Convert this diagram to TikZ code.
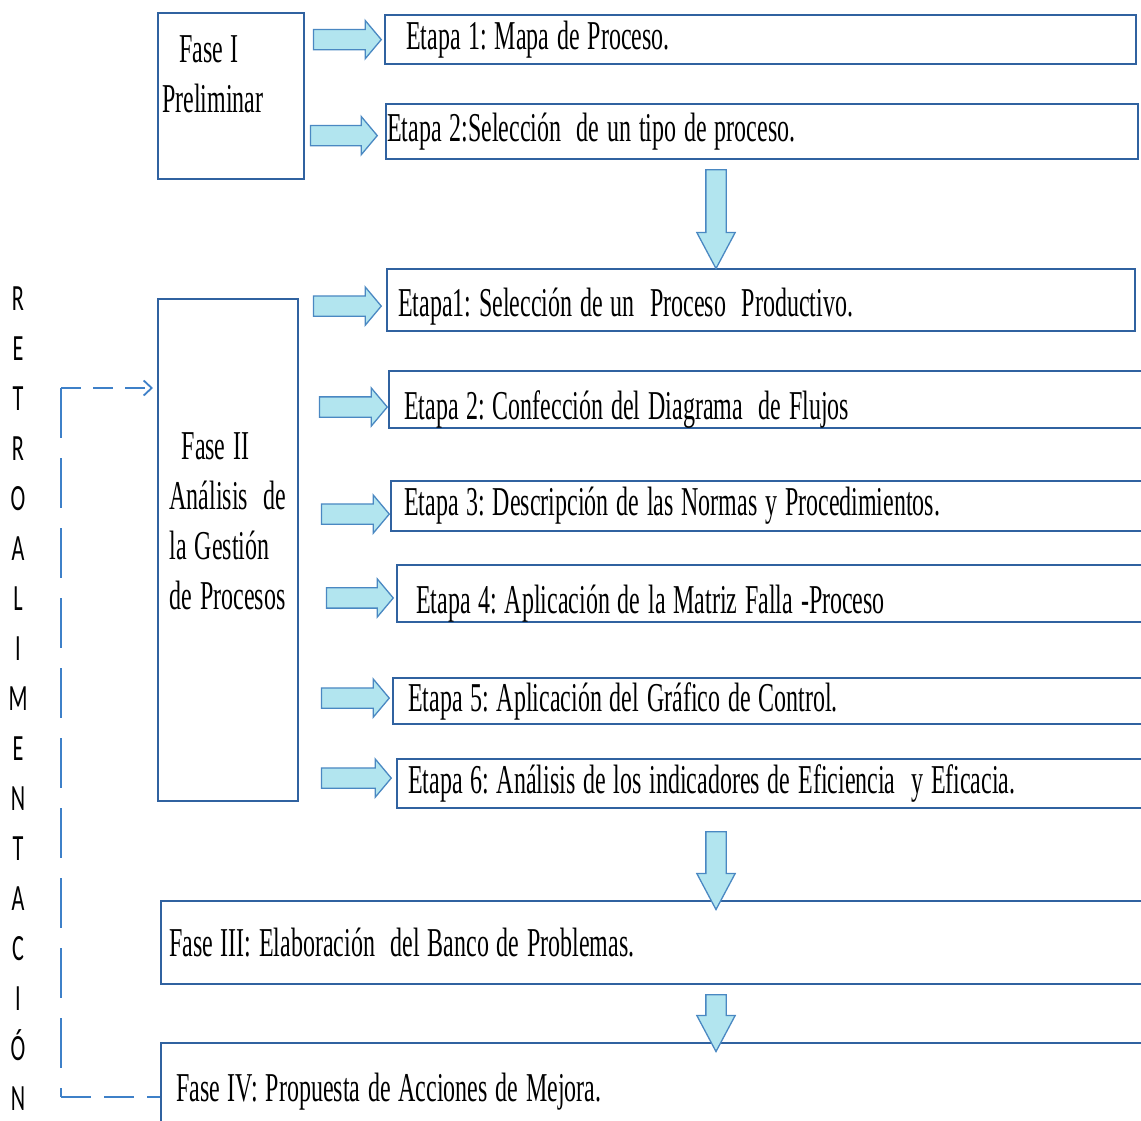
\documentclass[tikz,border=0pt]{standalone}
\usepackage{fontspec}
\newfontfamily\narrowserif{Liberation Serif}[FakeStretch=0.585, WordSpace=1.3]
\newfontfamily\narrowsans{Carlito}[FakeStretch=0.6]
\usetikzlibrary{arrows.meta,shapes.arrows,calc}
\definecolor{boxblue}{RGB}{48,98,160}
\definecolor{arrowfill}{RGB}{178,229,239}
\definecolor{arrowedge}{RGB}{74,136,194}
\definecolor{fbblue}{RGB}{62,128,200}
\frenchspacing

\begin{document}
\begin{tikzpicture}[x=1pt, y=-1pt,
    stagebox/.style={draw=boxblue, line width=2.2pt, anchor=north west, align=left, inner ysep=0pt, font=\narrowserif\fontsize{41}{50}\selectfont, execute at begin node={\spaceskip=0pt\xspaceskip=0pt}},
    barrow/.style={to path={let \p1=(\tikztostart), \p2=(\tikztotarget), \n1={veclen(\x2-\x1,\y2-\y1)} in (\tikztostart) -- (\tikztotarget) node[pos=.5, sloped, allow upside down, single arrow, draw=arrowedge, fill=arrowfill, line width=1.3pt, minimum height=\n1, minimum width=0pt, inner xsep=0pt, inner ysep=9.5pt, single arrow head extend=9pt, single arrow tip angle=#1] {}}},
    barrow/.default=100,
    fbline/.style={draw=fbblue, line width=1.8pt},
    letter/.style={anchor=base, inner sep=0pt, font=\narrowsans\fontsize{37}{37}\selectfont}
]
\useasboundingbox (0,0) rectangle (1141,1120);
\clip (0,0) rectangle (1141,1120);

% fase I
\node[stagebox, text width=138pt, inner xsep=4pt, minimum height=166pt, text depth=94pt] (faseI) at (157,12) {\hspace*{17pt}Fase I\\Preliminar};
\node[stagebox, text width=709pt, inner xsep=21pt, minimum height=49pt] (e1a) at (384,14) {Etapa 1: Mapa de Proceso.};
\node[stagebox, text width=750pt, inner xsep=1pt, minimum height=55pt] (e2a) at (385,103) {Etapa 2:Selección~ de un tipo de proceso.};

% fase II
\node[stagebox, minimum width=140pt, minimum height=502pt, text depth=58pt] (faseII) at (157,298) {\hspace*{12pt}Fase II\\Análisis~ de\\la Gestión\\de Procesos};
\node[stagebox, text width=726pt, inner xsep=11pt, minimum height=62pt, text height=41pt] (e1b) at (386,268) {Etapa1: Selección de un~ Proceso~ Productivo.};
\node[stagebox, text width=727pt, inner xsep=15pt, minimum height=51pt, text height=48pt] (e2b) at (388,370) {Etapa 2: Confección del Diagrama~ de Flujos};
\node[stagebox, text width=729pt, inner xsep=13pt, minimum height=50pt] (e3b) at (390,480) {Etapa 3: Descripción de las Normas y Procedimientos.};
\node[stagebox, text width=711pt, inner xsep=19pt, minimum height=53pt, text height=48pt] (e4b) at (396,564) {Etapa 4: Aplicación de la Matriz Falla -Proceso};
\node[stagebox, text width=723pt, inner xsep=15pt, minimum height=46pt] (e5b) at (392,677) {Etapa 5: Aplicación del Gráfico de Control.};
\node[stagebox, text width=727pt, inner xsep=11pt, minimum height=49pt] (e6b) at (396,758) {Etapa 6: Análisis de los indicadores de Eficiencia~ y Eficacia.};

% fases III y IV
\node[stagebox, text width=969pt, inner xsep=8pt, minimum height=83pt] (faseIII) at (160,900) {Fase III: Elaboración~ del Banco de Problemas.};
\node[stagebox, text width=955pt, inner xsep=15pt, minimum height=98pt] (faseIV) at (160,1042) {Fase IV: Propuesta de Acciones de Mejora.};

% flechas de bloque
\coordinate (col) at (716,0);
\path[barrow] ($(faseI.east |- e1a.west)+(4,0)$) to ($(e1a.west)+(-7,0)$);
\path[barrow] ($(faseI.east |- e2a.west)+(1,4)$) to ($(e2a.west)+(-12,4)$);
\path[barrow=56] (e2a.south -| col) to ($(e1b.north -| col)+(0,-9)$);
\path[barrow] ($(faseII.east |- e1b.west)+(10,6)$) to ($(e1b.west)+(-9,6)$);
\path[barrow] ($(faseII.east |- e2b.west)+(16,7.5)$) to ($(e2b.west)+(-5,7.5)$);
\path[barrow] ($(faseII.east |- e3b.west)+(18,8)$) to ($(e3b.west)+(-5,8)$);
\path[barrow] ($(faseII.east |- e4b.west)+(23,4.5)$) to ($(e4b.west)+(-7,4.5)$);
\path[barrow] ($(faseII.east |- e5b.west)+(18,-3)$) to ($(e5b.west)+(-7,-3)$);
\path[barrow] ($(faseII.east |- e6b.west)+(18,-5.5)$) to ($(e6b.west)+(-9,-5.5)$);
\path[barrow=56] ($(e6b.south -| col)+(0,13)$) to (faseIII.north -| col);
\path[barrow=56] (faseIII.south -| col) to (faseIV.north -| col);

% retroalimentacion
\foreach \ch [count=\i from 0] in {R,E,T,R,O,A,L,I,M,E,N,T,A,C,I,Ó,N}
  \node[letter] (fb\i) at (18,310+50*\i) {\ch};
\coordinate (fbtop) at (61,388);
\coordinate (fbbot) at (61,1097);
\draw[fbline, dash pattern=on 50pt off 20pt] (fbtop) -- (fbbot);
\draw[fbline, dash pattern=on 20pt off 12pt, -{Straight Barb[length=8pt,width=15pt]}, shorten >=4pt] (fbtop) -- (faseII.west |- fbtop);
\draw[fbline, dash pattern=on 30pt off 13pt] (fbbot) -- (faseIV.west |- fbbot);
\end{tikzpicture}
\end{document}
